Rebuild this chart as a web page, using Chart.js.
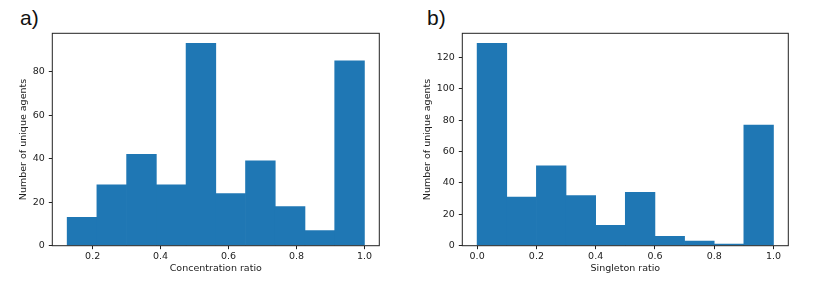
<!DOCTYPE html>
<html>
<head>
<meta charset="utf-8">
<script src="https://cdn.jsdelivr.net/npm/chart.js@4.4.1/dist/chart.umd.min.js"></script>
<style>
body { margin: 0; background: #fff; width: 831px; height: 281px; overflow: hidden; position: relative; }
.panel { position: absolute; top: 0; height: 281px; }
.tag { position: absolute; font-family: "Liberation Sans", Arial, sans-serif; font-size: 21px; color: #111; line-height: 1; }
</style>
</head>
<body>
<div class="tag" style="left:20px;top:7px">a)</div>
<div class="tag" style="left:427px;top:7px">b)</div>
<div class="panel" style="left:0;width:415px"><canvas id="concChart"></canvas></div>
<div class="panel" style="left:415px;width:416px"><canvas id="singChart"></canvas></div>
<script>
// histogram bin edges and counts
var concEdges = [0.125, 0.2125, 0.3, 0.3875, 0.475, 0.5625, 0.65, 0.7375, 0.825, 0.9125, 1.0];
var concCounts = [13, 28, 42, 28, 93, 24, 39, 18, 7, 85];
var concTicksX = [0.2, 0.4, 0.6, 0.8, 1.0];
var concTicksY = [0, 20, 40, 60, 80];

var singEdges = [0.0, 0.1, 0.2, 0.3, 0.4, 0.5, 0.6, 0.7, 0.8, 0.9, 1.0];
var singCounts = [129, 31, 51, 32, 13, 34, 6, 3, 1, 77];
var singTicksX = [0.0, 0.2, 0.4, 0.6, 0.8, 1.0];
var singTicksY = [0, 20, 40, 60, 80, 100, 120];

var txt = '#222';
var fontFam = '"DejaVu Sans", sans-serif';

// full box around the plot area, like matplotlib spines
var frame = {
    id: 'frame',
    afterDraw: function (chart) {
        var a = chart.chartArea, ctx = chart.ctx;
        ctx.save();
        ctx.strokeStyle = txt;
        ctx.lineWidth = 1;
        ctx.strokeRect(a.left, a.top, a.right - a.left, a.bottom - a.top);
        ctx.restore();
    }
};

function drawHist(canvas, edges, counts, ticksX, ticksY, xTitle, o) {
    var pts = [];
    for (var i = 0; i < counts.length; i++) {
        pts.push({ x: (edges[i] + edges[i + 1]) / 2, y: counts[i] });
    }
    var lo = edges[0], hi = edges[edges.length - 1];
    var pad = (hi - lo) * 0.05;
    var ymax = Math.max.apply(null, counts) * 1.05;
    return new Chart(document.getElementById(canvas), {
        type: 'bar',
        data: {
            datasets: [{
                data: pts,
                backgroundColor: '#1f77b4',
                borderWidth: 0,
                barPercentage: 1.0,
                categoryPercentage: 1.0
            }]
        },
        options: {
            responsive: true,
            maintainAspectRatio: false,
            animation: false,
            layout: { padding: { top: 33.3, right: o.right, left: 0, bottom: 0 } },
            plugins: { legend: { display: false }, tooltip: { enabled: false } },
            scales: {
                x: {
                    type: 'linear',
                    min: lo - pad,
                    max: hi + pad,
                    offset: false,
                    grid: { offset: false, drawOnChartArea: false, drawTicks: true, tickLength: 3.5, color: txt },
                    border: { display: false },
                    afterBuildTicks: function (s) { s.ticks = ticksX.map(function (v) { return { value: v }; }); },
                    afterFit: function (s) { s.height = 35.3; },
                    ticks: {
                        color: txt, padding: 2, maxRotation: 0,
                        font: { family: fontFam, size: 9.5 },
                        callback: function (v) { return Number(v).toFixed(1); }
                    },
                    title: {
                        display: true, text: xTitle, color: txt,
                        font: { family: fontFam, size: 9.5 },
                        padding: { top: 0, bottom: 6.3 }
                    }
                },
                y: {
                    min: 0,
                    max: ymax,
                    grid: { drawOnChartArea: false, drawTicks: true, tickLength: 3.5, color: txt },
                    border: { display: false },
                    afterBuildTicks: function (s) { s.ticks = ticksY.map(function (v) { return { value: v }; }); },
                    afterFit: function (s) { s.width = o.yWidth; },
                    ticks: { color: txt, padding: 4, font: { family: fontFam, size: 9.5 } },
                    title: {
                        display: true, text: 'Number of unique agents', color: txt,
                        font: { family: fontFam, size: 9.5 },
                        padding: { top: o.titleTop, bottom: 0 }
                    }
                }
            }
        },
        plugins: [frame]
    });
}

drawHist('concChart', concEdges, concCounts, concTicksX, concTicksY, 'Concentration ratio',
    { right: 35.7, yWidth: 52.3, titleTop: 18.3 });
drawHist('singChart', singEdges, singCounts, singTicksX, singTicksY, 'Singleton ratio',
    { right: 42.7, yWidth: 47.3, titleTop: 7 });
</script>
</body>
</html>
